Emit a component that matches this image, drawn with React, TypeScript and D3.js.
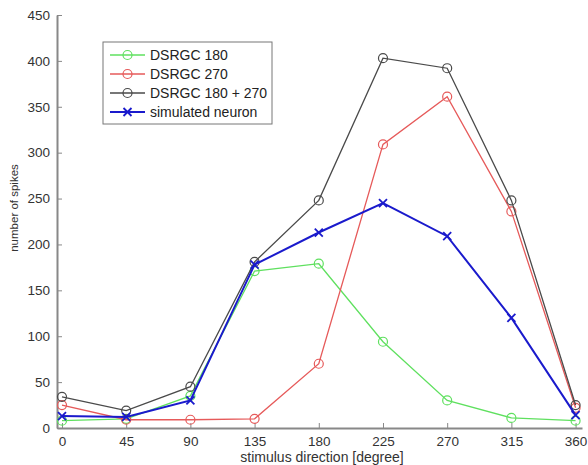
import React, { useEffect, useRef } from "react";
import * as d3 from "d3";

// stimulus directions (degrees)
const directions = [0, 45, 90, 135, 180, 225, 270, 315, 360];
const dsrgc180 = [8, 10, 35, 171, 179, 94, 30, 11, 8];
const dsrgc270 = [25, 9, 9, 10, 70, 309, 361, 236, 22];
const dsrgcSum = [34, 19, 45, 181, 248, 403, 392, 248, 25];
const simulated = [13, 12, 30, 178, 213, 245, 209, 120, 14];

const xTicks = [0, 45, 90, 135, 180, 225, 270, 315, 360];
const yTicks = [0, 50, 100, 150, 200, 250, 300, 350, 400, 450];

const series = [
  { name: "DSRGC 180", values: dsrgc180, color: "#5fe05f", marker: "o", width: 1.3 },
  { name: "DSRGC 270", values: dsrgc270, color: "#e65a5a", marker: "o", width: 1.3 },
  { name: "DSRGC 180 + 270", values: dsrgcSum, color: "#4a4a4a", marker: "o", width: 1.3 },
  { name: "simulated neuron", values: simulated, color: "#1a1acc", marker: "x", width: 2 },
];

const W = 588;
const H = 465;

const App = () => {
  const ref = useRef<SVGSVGElement>(null);

  useEffect(() => {
    const svg = d3.select(ref.current);
    svg.selectAll("*").remove();

    const x = d3.scaleLinear().domain([-3.5, 364.5]).range([57, 582]);
    const y = d3.scaleLinear().domain([0, 450]).range([428, 15]);
    const font = "Liberation Sans, Arial, sans-serif";
    const axisColor = "#888";

    // x axis
    const gx = svg
      .append("g")
      .attr("transform", `translate(0,${y(0)})`)
      .call(d3.axisBottom(x).tickValues(xTicks).tickSize(-5).tickPadding(8).tickSizeOuter(0));
    gx.select(".domain").attr("stroke", axisColor).attr("stroke-width", 2);
    gx.selectAll(".tick line").attr("stroke", axisColor);
    gx.selectAll(".tick text").attr("fill", "#333").style("font-family", font).style("font-size", "13.5px");

    // y axis
    const gy = svg
      .append("g")
      .attr("transform", `translate(57,0)`)
      .call(d3.axisLeft(y).tickValues(yTicks).tickSize(-5).tickPadding(7).tickSizeOuter(0));
    gy.select(".domain").attr("stroke", axisColor).attr("stroke-width", 2);
    gy.selectAll(".tick line").attr("stroke", axisColor);
    gy.selectAll(".tick text").attr("fill", "#333").style("font-family", font).style("font-size", "13.5px");

    // axis labels
    svg
      .append("text")
      .attr("x", 322)
      .attr("y", 462)
      .attr("text-anchor", "middle")
      .style("font-family", font)
      .style("font-size", "14px")
      .attr("fill", "#333")
      .text("stimulus direction [degree]");
    svg
      .append("text")
      .attr("transform", `translate(18,208) rotate(-90)`)
      .attr("text-anchor", "middle")
      .style("font-family", font)
      .style("font-size", "11.5px")
      .attr("fill", "#333")
      .text("number of spikes");

    const line = d3
      .line<number>()
      .x((d, i) => x(directions[i]))
      .y((d) => y(d));

    const drawMarker = (g: any, cx: number, cy: number, s: any) => {
      if (s.marker === "o") {
        g.append("circle")
          .attr("cx", cx)
          .attr("cy", cy)
          .attr("r", 4.5)
          .attr("fill", "none")
          .attr("stroke", s.color)
          .attr("stroke-width", 1.2);
      } else {
        const r = 4;
        g.append("path")
          .attr("d", `M${cx - r},${cy - r}L${cx + r},${cy + r}M${cx - r},${cy + r}L${cx + r},${cy - r}`)
          .attr("stroke", s.color)
          .attr("stroke-width", 1.8);
      }
    };

    series.forEach((s) => {
      const g = svg.append("g");
      g.append("path")
        .attr("d", line(s.values))
        .attr("fill", "none")
        .attr("stroke", s.color)
        .attr("stroke-width", s.width);
      s.values.forEach((v, i) => drawMarker(g, x(directions[i]), y(v), s));
    });

    // legend
    const lg = svg.append("g");
    lg.append("rect")
      .attr("x", 103)
      .attr("y", 42)
      .attr("width", 169)
      .attr("height", 82)
      .attr("fill", "white")
      .attr("stroke", "#777")
      .attr("stroke-width", 1);
    series.forEach((s, i) => {
      const ly = 55 + i * 19;
      lg.append("line")
        .attr("x1", 110)
        .attr("x2", 145)
        .attr("y1", ly)
        .attr("y2", ly)
        .attr("stroke", s.color)
        .attr("stroke-width", s.width);
      drawMarker(lg, 127.5, ly, s);
      lg.append("text")
        .attr("x", 150)
        .attr("y", ly + 5)
        .style("font-family", font)
        .style("font-size", "14px")
        .attr("fill", "#222")
        .text(s.name);
    });
  }, []);

  return <svg ref={ref} width={W} height={H} style={{ display: "block", position: "absolute", left: 0, top: 0, background: "white" }} />;
};

export default App;
